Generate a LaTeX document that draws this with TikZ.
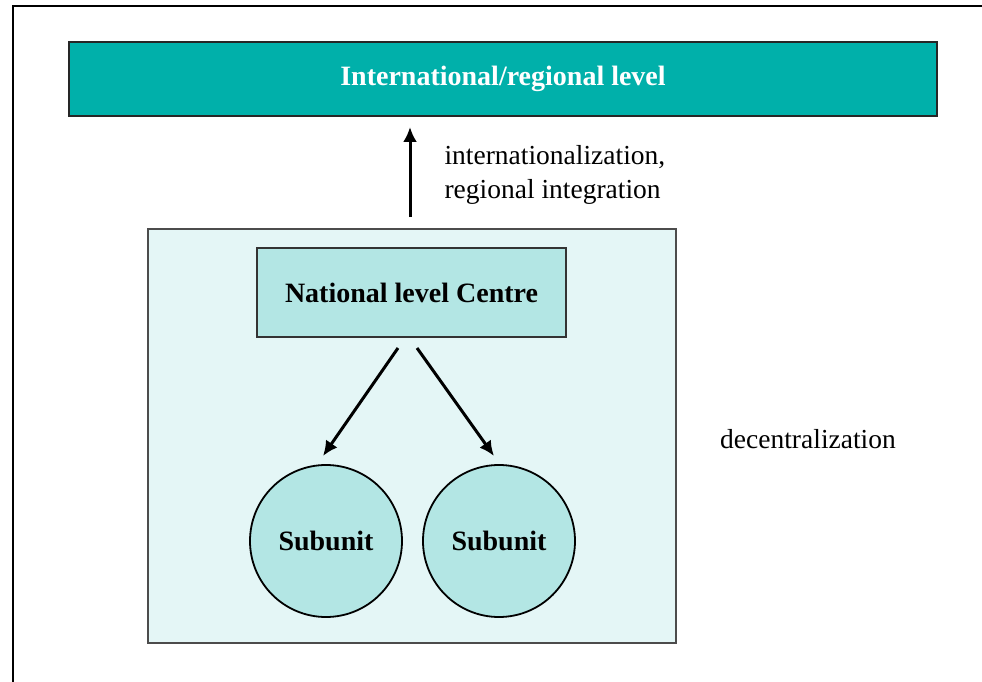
\documentclass[tikz,border=0pt]{standalone}
\usepackage{fontspec}
\setmainfont{Liberation Serif}
\usepackage{tikz}
\usetikzlibrary{arrows,arrows.meta}
\definecolor{tealfill}{RGB}{0,176,170}
\definecolor{palefill}{RGB}{228,246,246}
\definecolor{unitfill}{RGB}{179,230,228}
\tikzset{every picture/.append style={x=1pt, y=-1pt}}
\tikzset{frame/.style={line width=2pt, black}}
\tikzset{topbox/.style={rectangle, draw=black!85, line width=2.2pt, fill=tealfill, text=white, font=\fontsize{28}{32}\selectfont\bfseries}}
\tikzset{regionbox/.style={rectangle, draw=black!70, line width=2.2pt, fill=palefill}}
\tikzset{centrebox/.style={rectangle, draw=black!80, line width=1.8pt, fill=unitfill, font=\fontsize{28}{32}\selectfont\bfseries}}
\tikzset{unit/.style={circle, draw=black, line width=1.8pt, fill=unitfill, minimum size=152pt, inner sep=0pt, font=\fontsize{28}{32}\selectfont\bfseries}}
\tikzset{plain/.style={font=\fontsize{27.5}{34}\selectfont}}
\tikzset{flow/.style={-{Latex[length=15pt,width=14pt]}, line width=3pt}}

\begin{document}
\begin{tikzpicture}
  \useasboundingbox (0,0) rectangle (982,682);
  \draw[frame] (12.5,682) -- (12.5,6.5) -- (982,6.5);

  \node (intl) at (503,79)[topbox, minimum width=868pt, minimum height=74pt]{International/regional level};
  \node (country) at (412,436)[regionbox, minimum width=528pt, minimum height=414pt]{};
  \node (centre) at (411.5,292.5)[centrebox, minimum width=309pt, minimum height=89pt]{National level Centre};
  \node (sub1) at (326,541)[unit]{Subunit};
  \node (sub2) at (499,541)[unit]{Subunit};

  \node (intext) at (441,175)[plain, anchor=west, align=left]{internationalization,\\regional integration};
  \node (decent) at (808,439)[plain]{decentralization};

  % arrow ends
  \coordinate (upfoot) at (410,217);
  \coordinate (uptip) at (410,127);
  \coordinate (left0) at (398,348);
  \coordinate (left1) at (323,456);
  \coordinate (right0) at (417,348);
  \coordinate (right1) at (494,456);

  \draw[flow] (upfoot) -- (uptip);
  \draw[flow] (left0) -- (left1);
  \draw[flow] (right0) -- (right1);
\end{tikzpicture}
\end{document}
